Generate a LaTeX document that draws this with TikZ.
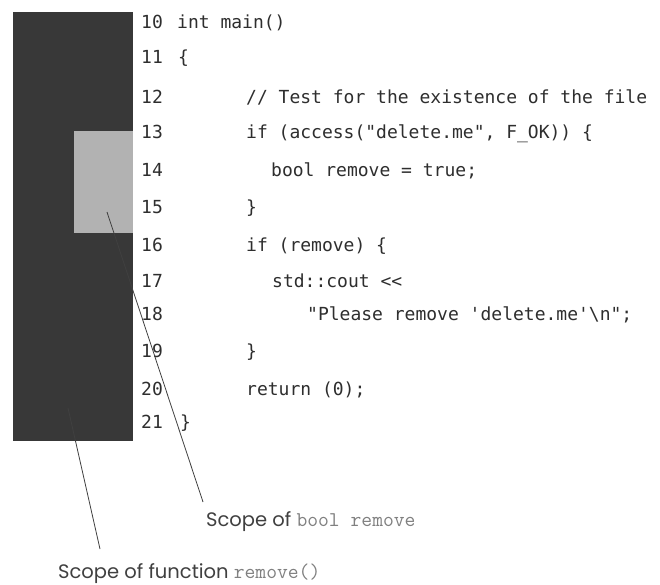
\documentclass[tikz,border=0pt]{standalone}
\usepackage{fontspec}
\setmainfont{Poppins}
\setmonofont{DejaVu Sans Mono}
\newfontfamily\labeltt{Latin Modern Mono}
\newcommand\lblmono[1]{{\labeltt\fontsize{21}{21}\selectfont\color{black!50}#1}}
\begin{document}
\begin{tikzpicture}[x=1pt,y=-1pt,
  code/.style={anchor=base west,inner sep=0pt,font=\ttfamily\fontsize{18}{18}\selectfont,text=black!82},
  lbl/.style={anchor=base west,inner sep=0pt,font=\fontsize{19.5}{19.5}\selectfont,text=black!75},
  leader/.style={draw=black!75,line width=0.8pt}]
\useasboundingbox[fill=white] (0,0) rectangle (660,585);
% scope boxes
\fill[black!78] (13,12) rectangle (133,441);
\fill[black!28!blue!4!white,fill=black!30] (74,131) rectangle (133,233);
% line numbers
\foreach \n/\y in {10/29,11/64,12/104,13/139,14/177,15/213,16/251,17/287,18/320,19/357,20/395,21/428}
  \node[code] (n\n) at (141,\y) {\n};
% code
\node[code] (c10) at (177,29) {int main()};
\node[code] (c11) at (178,64) {\{};
\node[code] (c12) at (246,104) {// Test for the existence of the file};
\node[code] (c13) at (246,139) {if (access("delete.me", F\_OK)) \{};
\node[code] (c14) at (271,177) {bool remove = true;};
\node[code] (c15) at (246,213) {\}};
\node[code] (c16) at (246,251) {if (remove) \{};
\node[code] (c17) at (272,287) {std::cout <{}<};
\node[code] (c18) at (307,320) {"Please remove 'delete.me'\textbackslash n";};
\node[code] (c19) at (246,357) {\}};
\node[code] (c20) at (246,395) {return (0);};
\node[code] (c21) at (180,428) {\}};
% labels
\node[lbl] (lb) at (206,526) {Scope of \lblmono{bool remove}};
\node[lbl] (lf) at (58,578) {Scope of function \lblmono{remove()}};
% leaders
\coordinate (pb) at (107,212);
\coordinate (eb) at (203,502);
\coordinate (pf) at (68,408);
\coordinate (ef) at (100,549);
\draw[leader] (pb) -- (eb);
\draw[leader] (pf) -- (ef);
\end{tikzpicture}
\end{document}
